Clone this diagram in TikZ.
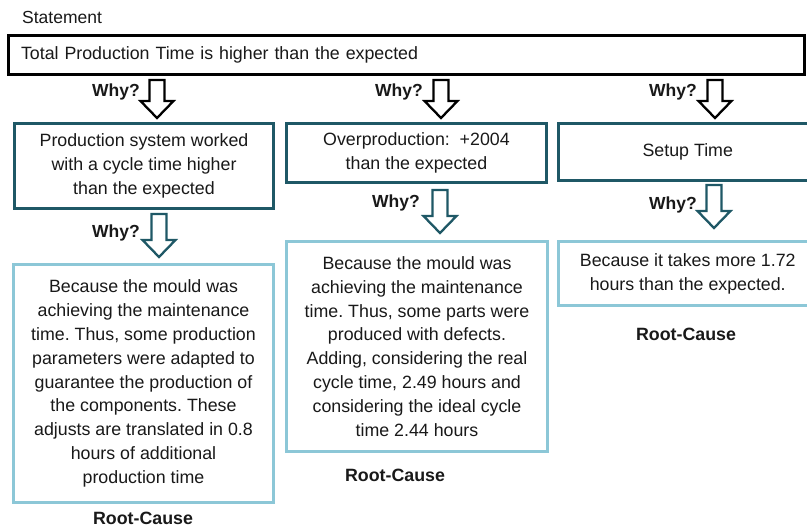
\documentclass[tikz,border=0pt]{standalone}
\usepackage{fontspec}
\setmainfont{Liberation Sans}
\frenchspacing
\definecolor{tealdark}{RGB}{31,88,102}
\definecolor{lightblue}{RGB}{140,199,215}
\definecolor{ink}{RGB}{25,25,25}
\tikzset{
  txt/.style={text=ink, font=\fontsize{17.8}{23.8}\selectfont, align=center, inner sep=0pt},
  whylabel/.style={text=ink, font=\bfseries\fontsize{17.5}{20}\selectfont, anchor=east, inner sep=0pt},
  rootlabel/.style={text=ink, font=\bfseries\fontsize{17.8}{20}\selectfont, inner sep=0pt},
  causebox/.style={draw=tealdark, line width=2.6pt, txt},
  rootbox/.style={draw=lightblue, line width=2.6pt, txt},
  pics/hollowdown/.style args={#1/#2}{code={
    \draw[#2, line width=2.3pt, line join=miter, fill=white]
      (-7.5,0) -- (7.5,0) -- (7.5,#1-17) -- (16.5,#1-17) -- (0,#1)
      -- (-16.5,#1-17) -- (-7.5,#1-17) -- cycle;
  }}
}
\begin{document}
\begin{tikzpicture}[x=1pt,y=-1pt]
\useasboundingbox[fill=white] (0,0) rectangle (807,527);

% statement
\node[text=ink, font=\fontsize{17.5}{20}\selectfont, anchor=west, inner sep=0pt] (stlabel) at (22,17) {Statement};
\node[draw=black, line width=3pt, txt, align=left, text width=771pt, minimum height=39pt,
      inner xsep=12.5pt, anchor=center] (stmt) at (406.5,55)
  {Total Production Time is higher than the expected};

% first level causes
\node[causebox, minimum width=259.5pt, minimum height=85.5pt] (c1) at (144,166)
  {Production system worked\\with a cycle time higher\\than the expected};
\node[causebox, minimum width=260.5pt, minimum height=59.5pt] (c2) at (416.5,153)
  {Overproduction:\ \ +2004\\than the expected};
\node[causebox, minimum width=259pt, minimum height=57.5pt] (c3) at (687.75,152)
  {Setup Time};

% root causes
\node[rootbox, minimum width=260.5pt, minimum height=238.5pt] (r1) at (143.5,383.5)
  {Because the mould was\\achieving the maintenance\\time. Thus, some production\\parameters were adapted to\\guarantee the production of\\the components. These\\adjusts are translated in 0.8\\hours of additional\\production time};
\node[rootbox, minimum width=261.5pt, minimum height=210.5pt] (r2) at (417,346.5)
  {Because the mould was\\achieving the maintenance\\time. Thus, some parts were\\produced with defects.\\Adding, considering the real\\cycle time, 2.49 hours and\\considering the ideal cycle\\time 2.44 hours};
\node[rootbox, minimum width=259pt, minimum height=64.5pt] (r3) at (687.75,273.5)
  {Because it takes more 1.72\\hours than the expected.};

% why arrows from the statement
\pic at (157,80) {hollowdown={38/black}};
\pic at (441,80) {hollowdown={38/black}};
\pic at (715,80) {hollowdown={38/black}};
\node[whylabel] (w1) at (140,92) {Why?};
\node[whylabel] (w2) at (423,92) {Why?};
\node[whylabel] (w3) at (697,92) {Why?};

% why arrows from the causes
\pic at (159,214) {hollowdown={43/tealdark}};
\pic at (440,190) {hollowdown={43/tealdark}};
\pic at (714,185) {hollowdown={43/tealdark}};
\node[whylabel] (w4) at (140,233) {Why?};
\node[whylabel] (w5) at (420,203) {Why?};
\node[whylabel] (w6) at (697,205) {Why?};

% root cause captions
\node[rootlabel] (rc1) at (143,518) {Root-Cause};
\node[rootlabel] (rc2) at (395,475) {Root-Cause};
\node[rootlabel] (rc3) at (686,334) {Root-Cause};
\end{tikzpicture}
\end{document}
